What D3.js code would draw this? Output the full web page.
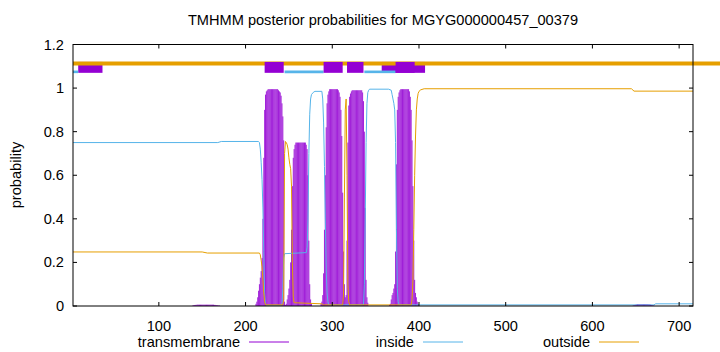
<!DOCTYPE html>
<html>
<head>
<meta charset="utf-8">
<script src="https://cdn.jsdelivr.net/npm/d3@7"></script>
<style>
html,body{margin:0;padding:0;background:#fff;}
svg{display:block;font-family:"Liberation Sans",Arial,sans-serif;}
</style>
</head>
<body>
<svg id="chart" width="720" height="352"></svg>
<script>
// ---------- data ----------
const title = "TMHMM posterior probabilities for MGYG000000457_00379";
const seqLength = 716;
const xTicks = [100, 200, 300, 400, 500, 600, 700];
const yTicks = [0, 0.2, 0.4, 0.6, 0.8, 1, 1.2];
const yTickLabels = ["0", "0.2", "0.4", "0.6", "0.8", "1", "1.2"];
const seriesNames = ["transmembrane", "inside", "outside"];

// transmembrane posterior per residue (only non-zero stretches; start residue + values)
const tmStarts = [139, 212, 246, 287, 366, 647];
const tmValues = [
  [0.002,0.003,0.004,0.005,0.005,0.006,0.006,0.006,0.006,0.006,0.006,0.006,0.006,0.006,0.006,0.006,0.006,0.006,0.006,0.006,0.006,0.006,0.006,0.006,0.006,0.005,0.005,0.004,0.004,0.003,0.002,0.002],
  [0.01,0.02,0.04,0.07,0.1,0.13,0.16,0.22,0.4,0.68,0.9,0.97,0.985,0.99,
   0.995,0.995,0.995,0.995,0.995,0.995,0.995,0.995,0.995,0.995,0.995,0.995,
   0.99,0.985,0.98,0.965,0.93,0.87,0.76,0.02],
  [0.005,0.01,0.03,0.05,0.08,0.12,0.2,0.35,0.55,0.68,0.72,0.74,
   0.75,0.75,0.75,0.75,0.75,0.75,0.75,0.75,0.75,0.75,0.75,0.75,
   0.74,0.72,0.6,0.3,0.1,0.03,0.01],
  [0.01,0.02,0.05,0.15,0.35,0.6,0.82,0.93,0.97,0.985,
   0.995,0.995,0.995,0.995,0.995,0.995,0.995,0.995,0.995,0.995,
   0.99,0.98,0.96,0.9,0.78,0.52,0.25,0.1,0.04,0.05,0.3,0.75,0.92,0.96,0.975,0.985,
   0.99,0.99,0.99,0.99,0.99,0.99,0.99,0.99,0.99,0.99,0.99,0.99,
   0.98,0.94,0.8,0.45,0.12,0.04,0.015],
  [0.005,0.01,0.03,0.05,0.06,0.08,0.1,0.25,0.65,0.9,0.96,0.98,0.99,
   0.995,0.995,0.995,0.995,0.995,0.995,0.995,0.995,0.995,0.995,
   0.985,0.96,0.9,0.76,0.55,0.3,0.12,0.06,0.04,0.02,0.01],
  [0.003,0.004,0.005,0.006,0.007,0.008,0.008,0.008,0.008,0.008,0.008,0.008,0.008,0.008,0.008,0.008,0.008,0.008,0.007,0.007,0.006,0.005,0.004,0.003,0.002]
];

// inside / outside posterior, read at the residues where the curve changes
const insidePos = [1,168,172,215,216,217,218,219,220,221,222,223,224,241,242,243,244,245,270,271,272,273,274,275,276,278,280,288,289,290,291,292,293,294,295,296,336,337,338,339,340,341,342,343,365,368,369,370,371,372,373,374,375,376,377,671,673,716];
const insideVal = [0.75,0.75,0.755,0.755,0.75,0.72,0.66,0.58,0.45,0.25,0.06,0.01,0.003,0.003,0.01,0.08,0.22,0.24,0.245,0.27,0.4,0.7,0.88,0.95,0.97,0.98,0.985,0.985,0.95,0.84,0.64,0.39,0.17,0.06,0.02,0.005,0.005,0.1,0.4,0.75,0.93,0.98,0.99,0.995,0.995,0.99,0.97,0.95,0.93,0.9,0.75,0.35,0.08,0.02,0.005,0.005,0.01,0.01];

const outsidePos = [1,150,156,216,217,218,219,220,221,222,223,243,244,245,246,247,248,249,250,251,252,253,254,255,256,288,290,312,313,314,315,316,317,318,319,320,391,392,393,394,395,396,397,398,399,400,402,406,645,648,716];
const outsideVal = [0.248,0.248,0.243,0.243,0.235,0.21,0.18,0.12,0.06,0.02,0.005,0.005,0.03,0.7,0.755,0.75,0.74,0.72,0.68,0.65,0.63,0.55,0.2,0.04,0.015,0.01,0.005,0.005,0.05,0.5,0.9,0.95,0.6,0.1,0.02,0.005,0.005,0.03,0.12,0.35,0.6,0.78,0.9,0.95,0.975,0.985,0.992,0.997,0.997,0.986,0.986];

// predicted topology strip at the top
const outsideTopSegments = [[1, 760]];
const insideTopSegments = [[1, 7], [245, 290], [337, 373]];
const tmBoxesBelow = [[7, 35], [357, 407]];
const tmBoxesAbove = [[222, 244], [290, 312], [317, 336], [373, 395]];
const levelOutside = 1.113, levelInside = 1.0745, boxLow = 1.07, boxHigh = 1.12;

// ---------- drawing ----------
const C_TM = "rgb(148,0,211)", C_IN = "rgb(86,180,233)", C_OUT = "rgb(230,159,0)";
const svg = d3.select("#chart");
const L = 73, R = 693, T = 44.5, B = 306;
const x = d3.scaleLinear().domain([1, seqLength]).range([L, R]);
const y = d3.scaleLinear().domain([0, 1.2]).range([B, T]);

// impulses
const tmData = [];
tmStarts.forEach((s, i) => tmValues[i].forEach((v, j) => tmData.push({pos: s + j, v})));
svg.append("g").selectAll("line").data(tmData).join("line")
  .attr("x1", d => x(d.pos)).attr("x2", d => x(d.pos))
  .attr("y1", y(0)).attr("y2", d => y(d.v))
  .attr("stroke", C_TM).attr("stroke-width", 0.85);

const line = d3.line().x(d => x(d[0])).y(d => y(d[1]));
svg.append("path").datum(insidePos.map((p, i) => [p, insideVal[i]]))
  .attr("d", line).attr("fill", "none").attr("stroke", C_IN).attr("stroke-width", 1);
svg.append("path").datum(outsidePos.map((p, i) => [p, outsideVal[i]]))
  .attr("d", line).attr("fill", "none").attr("stroke", C_OUT).attr("stroke-width", 1);

// top strip
function boxes(arr) {
  svg.append("g").selectAll("rect").data(arr).join("rect")
    .attr("x", d => x(d[0])).attr("width", d => x(d[1]) - x(d[0]))
    .attr("y", y(boxHigh)).attr("height", y(boxLow) - y(boxHigh))
    .attr("fill", C_TM);
}
boxes(tmBoxesBelow);
svg.append("g").selectAll("line").data(insideTopSegments).join("line")
  .attr("x1", d => x(d[0])).attr("x2", d => x(d[1]))
  .attr("y1", y(levelInside)).attr("y2", y(levelInside))
  .attr("stroke", C_IN).attr("stroke-width", 2.6);
svg.append("g").selectAll("line").data(outsideTopSegments).join("line")
  .attr("x1", d => x(d[0])).attr("x2", d => x(d[1]))
  .attr("y1", y(levelOutside)).attr("y2", y(levelOutside))
  .attr("stroke", C_OUT).attr("stroke-width", 4);
boxes(tmBoxesAbove);

// frame and ticks
const frame = svg.append("g").attr("stroke", "#000").attr("fill", "none");
frame.append("rect").attr("x", L).attr("y", T).attr("width", R - L).attr("height", B - T)
  .attr("stroke-width", 1);
const tk = svg.append("g").attr("stroke", "#000").attr("stroke-width", 1);
xTicks.forEach(t => {
  tk.append("line").attr("x1", x(t)).attr("x2", x(t)).attr("y1", B).attr("y2", B - 4);
  tk.append("line").attr("x1", x(t)).attr("x2", x(t)).attr("y1", T).attr("y2", T + 4);
});
yTicks.forEach(t => {
  tk.append("line").attr("x1", L).attr("x2", L + 4).attr("y1", y(t)).attr("y2", y(t));
  tk.append("line").attr("x1", R).attr("x2", R - 4).attr("y1", y(t)).attr("y2", y(t));
});

// labels
const fs = 14.6;
svg.append("g").selectAll("text").data(xTicks).join("text")
  .attr("x", d => x(d)).attr("y", 331).attr("text-anchor", "middle")
  .attr("font-size", fs).text(d => d);
svg.append("g").selectAll("text").data(yTicks).join("text")
  .attr("x", 64).attr("y", d => y(d) + 5).attr("text-anchor", "end")
  .attr("font-size", fs).text((d, i) => yTickLabels[i]);
svg.append("text").attr("x", (L + R) / 2).attr("y", 25).attr("text-anchor", "middle")
  .attr("font-size", fs).text(title);
svg.append("text").attr("transform", "translate(21,175) rotate(-90)")
  .attr("text-anchor", "middle").attr("font-size", fs).text("probability");

// legend
const legendColors = [C_TM, C_IN, C_OUT];
const legendTextRight = [240, 414, 590];
seriesNames.forEach((n, i) => {
  svg.append("text").attr("x", legendTextRight[i]).attr("y", 347)
    .attr("text-anchor", "end").attr("font-size", fs).text(n);
  svg.append("line").attr("x1", legendTextRight[i] + 9).attr("x2", legendTextRight[i] + 49)
    .attr("y1", 342).attr("y2", 342).attr("stroke", legendColors[i]).attr("stroke-width", 1);
});
</script>
</body>
</html>
